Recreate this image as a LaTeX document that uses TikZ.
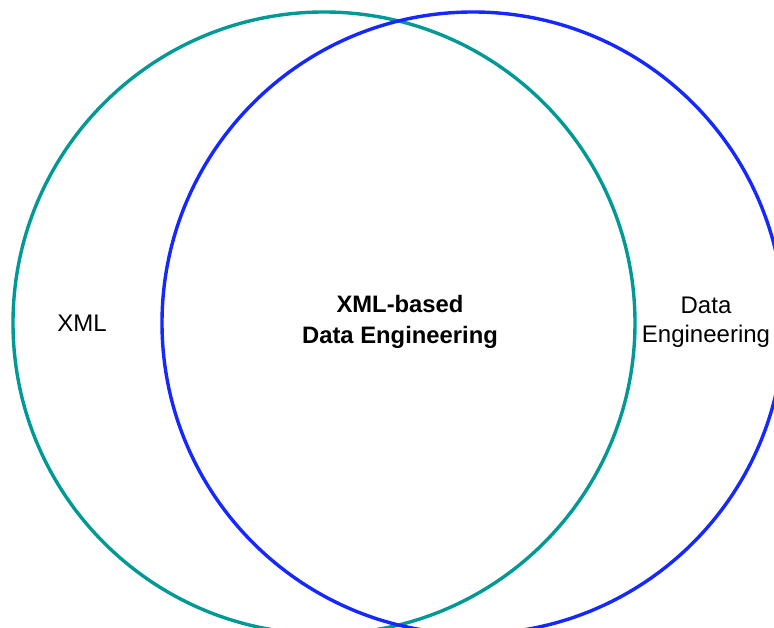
\documentclass[tikz,border=0pt]{standalone}
\usepackage{fontspec}
\setmainfont{Liberation Sans}
\definecolor{tealring}{RGB}{0,153,150}
\definecolor{bluering}{RGB}{20,40,255}
\begin{document}
\begin{tikzpicture}[x=1pt,y=1pt,
  ring/.style={circle, draw, line width=3.4pt, minimum size=622pt, inner sep=0pt},
  lbl/.style={align=center, font=\fontsize{24}{29}\selectfont, inner sep=0pt}]
\useasboundingbox (0,0) rectangle (774,628);
\node[ring, draw=tealring] (xml) at (324,305) {};
\node[ring, draw=bluering] (de) at (473,305) {};
\node[lbl] (xmllbl) at (82,305) {XML};
\node[lbl, font=\fontsize{23.8}{31}\bfseries\selectfont] (mid) at (400,306) {XML-based\\Data Engineering};
\node[lbl] (delbl) at (706,306) {Data\\Engineering};
\end{tikzpicture}
\end{document}
